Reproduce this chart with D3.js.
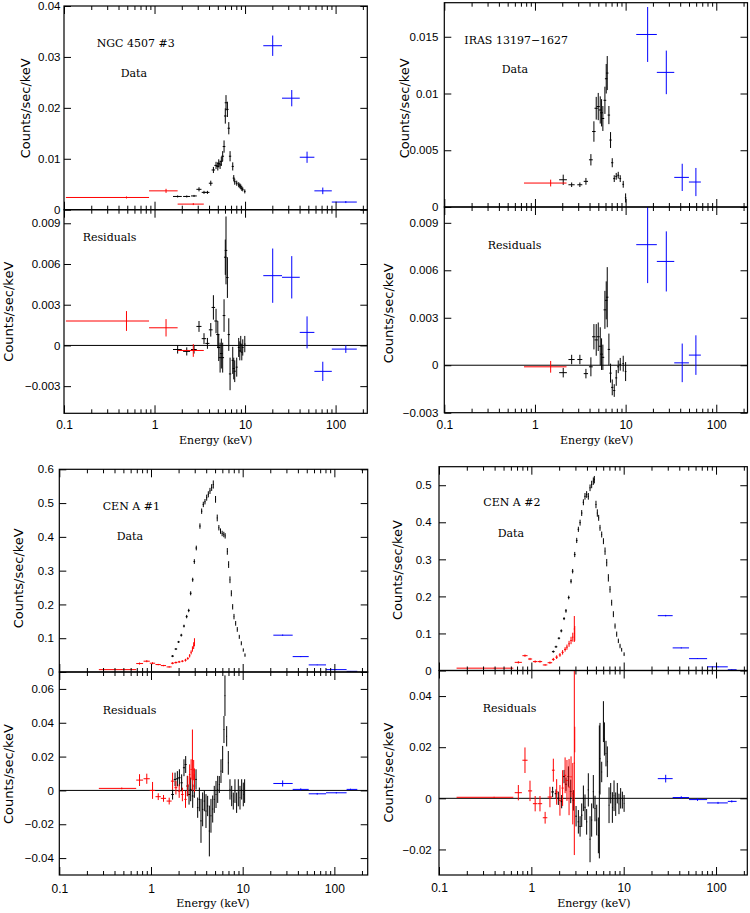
<!DOCTYPE html>
<html><head><meta charset="utf-8">
<script src="https://cdn.jsdelivr.net/npm/d3@7"></script>
<style>body{margin:0;background:#fff}</style>
</head><body><svg id="c" width="750" height="913"></svg>
<script>
// ---------- shared ticks ----------
const xMajor = [0.1, 1, 10, 100];
const xMajorLabels = ["0.1", "1", "10", "100"];
const xMinor = [0.2,0.3,0.4,0.5,0.6,0.7,0.8,0.9,2,3,4,5,6,7,8,9,20,30,40,50,60,70,80,90,200];

// ---------- Panel 1: NGC 4507 #3 ----------
const p1DataTicks = [0, 0.01, 0.02, 0.03, 0.04];
const p1DataLabels = ["0", "0.01", "0.02", "0.03", "0.04"];
const p1ResTicks = [-0.003, 0, 0.003, 0.006, 0.009];
const p1ResLabels = ["\u22120.003", "0", "0.003", "0.006", "0.009"];
const p1BlackE = [1.80,2.27,2.73,3.10,3.52,3.84,4.18,4.47,4.78,5.00,5.12,5.30,5.47,5.66,5.86,6.05,6.16,6.38,6.61,6.83,7.31,7.50,7.69,8.09,8.51,8.75,8.96,9.20,9.43,9.93];
const p1BlackY = [0.0026,0.0026,0.0027,0.0040,0.0034,0.0034,0.0052,0.0078,0.0087,0.0085,0.0091,0.0088,0.0095,0.0105,0.0124,0.0184,0.0210,0.0197,0.0160,0.0105,0.0085,0.0062,0.0055,0.0052,0.0049,0.0047,0.0045,0.0042,0.0040,0.0036];
const p1BlackDY = [0.0002,0.0002,0.0002,0.0004,0.0003,0.0003,0.0005,0.0006,0.0007,0.0008,0.0008,0.0008,0.0009,0.0010,0.0012,0.0015,0.0015,0.0015,0.0012,0.0010,0.0008,0.0006,0.0006,0.0005,0.0005,0.0005,0.0005,0.0005,0.0004,0.0004];
const p1BlackR = [-0.0003,-0.00044,-0.0003,0.0014,0.0005,0.00015,0.00115,0.0028,0.0018,0.0008,-0.00015,-0.0009,-0.0006,-0.0009,0.0022,0.0065,0.0070,0.0050,0.0008,-0.0021,-0.0011,-0.0017,-0.0019,-0.0016,-0.00015,-0.0004,0.0001,-0.0005,-0.00015,0.0001];
const p1BlackDR = [0.0003,0.0003,0.0003,0.0004,0.0004,0.0004,0.0005,0.0009,0.0009,0.0010,0.0010,0.0011,0.0011,0.0011,0.0012,0.0013,0.0025,0.0015,0.0012,0.0012,0.0010,0.0008,0.0008,0.0007,0.0007,0.0007,0.0006,0.0006,0.0006,0.0006];
const p1RedE = [0.49, 1.34, 2.68];
const p1RedLo = [0.105, 0.87, 1.80];
const p1RedHi = [0.87, 1.80, 3.50];
const p1RedY = [0.0024, 0.0037, 0.0011];
const p1RedDY = [0.0002, 0.0004, 0.0002];
const p1RedR = [0.0018, 0.0013, -0.00037];
const p1RedDR = [0.00073, 0.00064, 0.00047];
const p1BlueE = [20.2, 32.8, 48.4, 72.2, 129.7];
const p1BlueLo = [15.9, 25.6, 40.2, 58.3, 90.8];
const p1BlueHi = [25.6, 40.2, 58.3, 90.8, 171.5];
const p1BlueY = [0.0322, 0.0219, 0.0103, 0.0037, 0.0015];
const p1BlueDY = [0.0020, 0.0016, 0.0011, 0.00065, 0.0002];
const p1BlueR = [0.00514, 0.00502, 0.00096, -0.00191, -0.00027];
const p1BlueDR = [0.0020, 0.00156, 0.00118, 0.00071, 0.00028];

// ---------- Panel 2: IRAS 13197-1627 ----------
const p2DataTicks = [0, 0.005, 0.01, 0.015];
const p2DataLabels = ["0", "0.005", "0.01", "0.015"];
const p2ResTicks = [-0.003, 0, 0.003, 0.006, 0.009];
const p2ResLabels = ["\u22120.003", "0", "0.003", "0.006", "0.009"];
const p2BlackE = [2.05,2.54,3.13,3.65,4.14,4.47,4.74,4.99,5.25,5.43,5.61,5.91,6.11,6.27,6.54,6.82,7.12,7.49,7.88,8.29,8.72,9.41,10.0];
const p2BlackY = [0.0024,0.00196,0.00196,0.00226,0.00416,0.00665,0.0087,0.00885,0.00855,0.0083,0.0078,0.0094,0.0113,0.0118,0.0081,0.0059,0.0039,0.0025,0.0027,0.0028,0.0025,0.0020,0.0008];
const p2BlackDY = [0.00045,0.0002,0.0002,0.0003,0.0005,0.0009,0.0010,0.0012,0.0012,0.0012,0.0011,0.0012,0.0013,0.0015,0.0008,0.0007,0.0004,0.0003,0.0003,0.0003,0.0003,0.0003,0.0004];
const p2BlackR = [-0.00047,0.00036,0.00036,-0.00053,-0.0001,0.0018,0.0016,0.0018,0.0012,0.0007,0.0005,0.0035,0.0041,0.0043,0.0010,-0.0005,-0.0014,-0.0016,-0.0008,-0.0001,0.00006,0.0001,-0.0004];
const p2BlackDR = [0.0003,0.0003,0.0003,0.0003,0.0006,0.0008,0.0010,0.0009,0.0012,0.0010,0.0008,0.0012,0.0012,0.0019,0.0010,0.0006,0.0005,0.0004,0.0005,0.0004,0.0004,0.0005,0.0006];
const p2RedE = [1.49];
const p2RedLo = [0.757];
const p2RedHi = [2.23];
const p2RedY = [0.00211];
const p2RedDY = [0.0003];
const p2RedR = [-0.0001];
const p2RedDR = [0.00037];
const p2BlueE = [17.5, 28.1, 42.1, 59.6];
const p2BlueLo = [13.1, 22.1, 34.4, 49.9];
const p2BlueHi = [22.1, 34.4, 49.9, 67.6];
const p2BlueY = [0.0152, 0.01186, 0.00261, 0.0022];
const p2BlueDY = [0.00242, 0.00192, 0.0012, 0.00124];
const p2BlueR = [0.00762, 0.00656, 0.00015, 0.00064];
const p2BlueDR = [0.00243, 0.0019, 0.00122, 0.00125];

// ---------- Panel 3: CEN A #1 ----------
const p3DataTicks = [0, 0.1, 0.2, 0.3, 0.4, 0.5, 0.6];
const p3DataLabels = ["0", "0.1", "0.2", "0.3", "0.4", "0.5", "0.6"];
const p3ResTicks = [-0.04, -0.02, 0, 0.02, 0.04, 0.06];
const p3ResLabels = ["\u22120.04", "\u22120.02", "0", "0.02", "0.04", "0.06"];
const p3BlackE = [1.72,1.87,2.00,2.14,2.29,2.45,2.58,2.71,2.85,2.97,3.12,3.42,3.57,3.72,3.88,4.05,4.22,4.40,4.59,4.78,5.06,5.28,5.50,5.73,5.97,6.23,6.44,6.80,7.03,7.27,7.52,7.78,8.04,8.39,8.73,9.18,9.66,10.15,10.6];
const p3BlackY = [0.047,0.068,0.089,0.109,0.136,0.164,0.182,0.233,0.273,0.327,0.367,0.432,0.476,0.496,0.504,0.516,0.526,0.536,0.546,0.555,0.511,0.456,0.427,0.417,0.410,0.407,0.403,0.357,0.318,0.273,0.233,0.193,0.164,0.144,0.126,0.104,0.085,0.065,0.050];
const p3BlackDY = [0.003,0.003,0.003,0.004,0.004,0.005,0.005,0.006,0.006,0.007,0.007,0.008,0.008,0.008,0.008,0.009,0.009,0.009,0.010,0.012,0.010,0.010,0.008,0.008,0.008,0.008,0.008,0.010,0.010,0.010,0.009,0.008,0.008,0.007,0.007,0.006,0.006,0.005,0.005];
const p3ResE = [1.72,1.83,1.94,2.04,2.16,2.29,2.39,2.49,2.60,2.71,2.85,2.97,3.10,3.23,3.37,3.51,3.66,3.82,3.98,4.15,4.33,4.51,4.71,4.90,5.12,5.34,5.56,5.80,6.05,6.25,6.41,6.69,6.97,7.27,7.59,7.90,8.24,8.59,8.96,9.35,9.75,10.16,10.5];
const p3ResR = [-0.0024,0.0065,0.0069,0.0075,0.0045,0.0134,0.0153,0.0026,-0.0024,0.0006,-0.0033,0.0026,0.0065,-0.0102,-0.0053,-0.018,-0.0112,-0.0063,-0.0122,-0.0092,-0.024,-0.015,-0.011,-0.0053,-0.0024,0.0006,0.0035,0.0114,0.0183,0.036,0.056,0.032,0.0163,0.0006,-0.0033,-0.0063,-0.0004,-0.0073,-0.0014,-0.0043,0.0006,-0.0024,-0.0004];
const p3ResDR = [0.003,0.004,0.0045,0.005,0.005,0.005,0.005,0.006,0.006,0.007,0.007,0.007,0.006,0.006,0.007,0.013,0.01,0.006,0.01,0.006,0.015,0.01,0.008,0.008,0.008,0.008,0.005,0.007,0.008,0.008,0.012,0.006,0.007,0.006,0.006,0.005,0.007,0.006,0.008,0.007,0.006,0.007,0.007];
const p3RedE = [0.48,0.75,0.90,1.04,1.20,1.37,1.58,1.72,1.87,2.03,2.20,2.38,2.52,2.64,2.74,2.83,2.92,2.98];
const p3RedLo = [0.27,0.69,0.83,0.97,1.12,1.28,1.48,1.65,1.80,1.96,2.13,2.31,2.46,2.59,2.70,2.80,2.89,2.96];
const p3RedHi = [0.69,0.82,0.97,1.11,1.28,1.46,1.68,1.79,1.94,2.10,2.27,2.45,2.58,2.69,2.78,2.87,2.95,3.00];
const p3RedY = [0.007,0.025,0.032,0.026,0.022,0.019,0.015,0.026,0.028,0.030,0.032,0.035,0.040,0.048,0.058,0.068,0.078,0.088];
const p3RedDY = [0.001,0.003,0.003,0.003,0.002,0.002,0.002,0.003,0.003,0.003,0.003,0.004,0.004,0.005,0.006,0.008,0.010,0.012];
const p3RedR = [0.0012,0.0061,0.0069,0.0,-0.0037,-0.0047,-0.0063,0.0055,0.0016,-0.0004,-0.0024,-0.0053,0.0026,0.0094,0.0124,0.018,0.012,0.006];
const p3RedDR = [0.0005,0.0035,0.003,0.005,0.002,0.002,0.002,0.005,0.004,0.004,0.004,0.005,0.006,0.006,0.006,0.018,0.006,0.007];
const p3BlueE = [27.3, 43, 65, 105, 150];
const p3BlueLo = [21.6, 35.1, 52.5, 81.1, 136];
const p3BlueHi = [35.1, 52.5, 81.1, 136, 178];
const p3BlueY = [0.109, 0.0456, 0.021, 0.007, 0.002];
const p3BlueDY = [0.002, 0.0015, 0.001, 0.001, 0.001];
const p3BlueR = [0.0041, 0.0006, -0.002, -0.0014, 0.0006];
const p3BlueDR = [0.0018, 0.0006, 0.0005, 0.0004, 0.0004];

// ---------- Panel 4: CEN A #2 ----------
const p4DataTicks = [0, 0.1, 0.2, 0.3, 0.4, 0.5];
const p4DataLabels = ["0", "0.1", "0.2", "0.3", "0.4", "0.5"];
const p4ResTicks = [-0.02, 0, 0.02, 0.04];
const p4ResLabels = ["\u22120.02", "0", "0.02", "0.04"];
const p4BlackE = [1.73,1.85,1.99,2.11,2.26,2.37,2.54,2.69,2.80,2.95,3.10,3.23,3.37,3.51,3.66,3.81,3.97,4.14,4.32,4.50,4.69,4.81,5.01,5.18,5.36,5.54,5.78,6.03,6.28,6.55,6.82,7.11,7.41,7.73,8.06,8.40,8.75,9.13,9.51,10.1];
const p4BlackY = [0.051,0.064,0.087,0.107,0.140,0.161,0.197,0.241,0.268,0.313,0.351,0.381,0.399,0.425,0.454,0.470,0.475,0.470,0.493,0.502,0.511,0.515,0.448,0.425,0.412,0.385,0.367,0.349,0.322,0.291,0.250,0.219,0.183,0.152,0.120,0.098,0.080,0.066,0.056,0.044];
const p4BlackDY = [0.003,0.003,0.003,0.004,0.004,0.005,0.005,0.006,0.006,0.007,0.007,0.007,0.008,0.008,0.008,0.009,0.009,0.009,0.009,0.010,0.010,0.010,0.010,0.010,0.008,0.008,0.008,0.008,0.010,0.010,0.010,0.009,0.008,0.008,0.007,0.007,0.006,0.006,0.005,0.005];
const p4ResE = [1.70,1.85,1.96,2.13,2.26,2.37,2.52,2.67,2.85,3.05,3.23,3.37,3.51,3.66,3.81,3.97,4.14,4.32,4.50,4.69,4.89,5.10,5.32,5.45,5.54,5.78,6.03,6.18,6.43,6.65,6.94,7.23,7.54,7.86,8.19,8.53,8.89,9.27,9.67,10.1];
const p4ResR = [0.0025,0.0018,0.0,-0.0013,0.0085,0.0055,0.0085,0.0027,-0.0008,-0.007,-0.0092,-0.011,-0.0066,0.0,-0.0035,-0.0092,0.0033,-0.016,-0.0085,0.0026,-0.004,-0.0085,-0.0145,0.0025,0.0155,0.0103,0.030,0.0232,0.0175,0.0143,-0.0027,0.002,-0.0036,0.001,-0.0023,0.002,-0.0022,0.0,-0.0007,-0.002];
const p4ResDR = [0.002,0.0017,0.0026,0.0026,0.0026,0.0026,0.004,0.0046,0.004,0.004,0.0046,0.004,0.0046,0.005,0.005,0.005,0.0065,0.009,0.0065,0.0065,0.005,0.006,0.007,0.026,0.014,0.004,0.008,0.0065,0.005,0.006,0.007,0.004,0.006,0.006,0.0046,0.004,0.004,0.004,0.0033,0.0033];
const p4RedE = [0.395,0.723,0.853,0.967,1.10,1.24,1.41,1.59,1.73,1.88,2.04,2.18,2.32,2.43,2.56,2.69,2.81,2.92,2.95];
const p4RedLo = [0.155,0.66,0.80,0.92,1.04,1.17,1.33,1.50,1.67,1.82,1.98,2.12,2.26,2.38,2.51,2.64,2.77,2.88,2.93];
const p4RedHi = [0.638,0.79,0.91,1.02,1.16,1.31,1.49,1.68,1.79,1.94,2.10,2.24,2.38,2.48,2.61,2.74,2.85,2.96,2.97];
const p4RedY = [0.0063,0.022,0.040,0.031,0.024,0.024,0.015,0.021,0.030,0.036,0.042,0.049,0.057,0.063,0.072,0.081,0.090,0.112,0.100];
const p4RedDY = [0.001,0.003,0.003,0.003,0.003,0.003,0.002,0.003,0.004,0.005,0.005,0.006,0.006,0.007,0.008,0.010,0.012,0.035,0.020];
const p4RedR = [0.0004,0.0022,0.0149,0.0029,-0.0021,-0.0021,-0.0076,0.0005,0.011,0.0025,-0.0008,0.004,0.009,0.007,0.0044,0.0084,0.0018,0.0138,0.023];
const p4RedDR = [0.0002,0.003,0.005,0.004,0.003,0.003,0.0023,0.004,0.0045,0.005,0.006,0.007,0.007,0.008,0.011,0.008,0.012,0.036,0.005];
const p4BlueE = [28.5, 42, 63, 105, 148];
const p4BlueLo = [23.4, 33.9, 51.0, 80.0, 134];
const p4BlueHi = [33.9, 51.0, 80.0, 134, 167];
const p4BlueY = [0.148, 0.061, 0.032, 0.0099, 0.002];
const p4BlueDY = [0.002, 0.0015, 0.001, 0.001, 0.001];
const p4BlueR = [0.0077, 0.0003, -0.0005, -0.0018, -0.0012];
const p4BlueDR = [0.0015, 0.0005, 0.0005, 0.0004, 0.0004];

// ---------- layout (pixel geometry) ----------
const panels = [
  { left: 64, right: 367.3, xMax: 224, top: 6, mid: 209.7, bottom: 413.3,
    dataDomain: [0, 0.04], resDomain: [-0.005, 0.01],
    dataTicks: p1DataTicks, dataLabels: p1DataLabels, resTicks: p1ResTicks, resLabels: p1ResLabels,
    yGap: 3.5, xGap: 6.7, binHalf: 0.2,
    black: { e: p1BlackE, y: p1BlackY, dy: p1BlackDY, r: p1BlackR, dr: p1BlackDR },
    red: { e: p1RedE, lo: p1RedLo, hi: p1RedHi, y: p1RedY, dy: p1RedDY, r: p1RedR, dr: p1RedDR },
    blue: { e: p1BlueE, lo: p1BlueLo, hi: p1BlueHi, y: p1BlueY, dy: p1BlueDY, r: p1BlueR, dr: p1BlueDR },
    name: "NGC 4507 #3", nameXY: [96.7, 46.7], dataXY: [120.7, 76.7], resXY: [82.7, 240.5],
    yLabData: [25.7, 108.3], yLabRes: [8.5, 311.7], eLab: [215.7, 444] },
  { left: 444.3, right: 747.5, xMax: 221, top: 2.7, mid: 207, bottom: 412.7,
    dataDomain: [0, 0.018], resDomain: [-0.003, 0.01],
    dataTicks: p2DataTicks, dataLabels: p2DataLabels, resTicks: p2ResTicks, resLabels: p2ResLabels,
    yGap: 6, xGap: 7.3, binHalf: 0.2,
    black: { e: p2BlackE, y: p2BlackY, dy: p2BlackDY, r: p2BlackR, dr: p2BlackDR },
    red: { e: p2RedE, lo: p2RedLo, hi: p2RedHi, y: p2RedY, dy: p2RedDY, r: p2RedR, dr: p2RedDR },
    blue: { e: p2BlueE, lo: p2BlueLo, hi: p2BlueHi, y: p2BlueY, dy: p2BlueDY, r: p2BlueR, dr: p2BlueDR },
    name: "IRAS 13197\u22121627", nameXY: [464.3, 44.3], dataXY: [501.7, 73.3], resXY: [487.7, 249],
    yLabData: [404.5, 108.3], yLabRes: [388.8, 313.3], eLab: [596.7, 444] },
  { left: 59.3, right: 367.7, xMax: 231, top: 469.3, mid: 672, bottom: 875,
    dataDomain: [0, 0.6], resDomain: [-0.05, 0.07],
    dataTicks: p3DataTicks, dataLabels: p3DataLabels, resTicks: p3ResTicks, resLabels: p3ResLabels,
    yGap: 5.5, xGap: 9, binHalf: 0.06,
    black: { e: p3BlackE, y: p3BlackY, dy: p3BlackDY, re: p3ResE, r: p3ResR, dr: p3ResDR },
    red: { e: p3RedE, lo: p3RedLo, hi: p3RedHi, y: p3RedY, dy: p3RedDY, r: p3RedR, dr: p3RedDR },
    blue: { e: p3BlueE, lo: p3BlueLo, hi: p3BlueHi, y: p3BlueY, dy: p3BlueDY, r: p3BlueR, dr: p3BlueDR },
    name: "CEN A #1", nameXY: [102.7, 510], dataXY: [116.7, 540], resXY: [102.7, 714],
    yLabData: [18, 578.3], yLabRes: [8.7, 774], eLab: [213, 906.5] },
  { left: 439, right: 747.3, xMax: 218, top: 466.7, mid: 670.5, bottom: 875,
    dataDomain: [0, 0.55], resDomain: [-0.03, 0.05],
    dataTicks: p4DataTicks, dataLabels: p4DataLabels, resTicks: p4ResTicks, resLabels: p4ResLabels,
    yGap: 7.3, xGap: 8.3, binHalf: 0.06,
    black: { e: p4BlackE, y: p4BlackY, dy: p4BlackDY, re: p4ResE, r: p4ResR, dr: p4ResDR },
    red: { e: p4RedE, lo: p4RedLo, hi: p4RedHi, y: p4RedY, dy: p4RedDY, r: p4RedR, dr: p4RedDR },
    blue: { e: p4BlueE, lo: p4BlueLo, hi: p4BlueHi, y: p4BlueY, dy: p4BlueDY, r: p4BlueR, dr: p4BlueDR },
    name: "CEN A #2", nameXY: [483.3, 506], dataXY: [497.7, 536.7], resXY: [482.7, 712.3],
    yLabData: [397.8, 570], yLabRes: [388.8, 772.5], eLab: [593.8, 906.5] }
];

const TICK_FONT = "'Liberation Sans', Arial, sans-serif";
const LABEL_FONT = "'DejaVu Sans', sans-serif";
const SERIF_FONT = "'DejaVu Serif', 'Liberation Serif', serif";
const svg = d3.select("#c");
svg.append("rect").attr("width", 750).attr("height", 913).attr("fill", "#fff");

function styleAxis(g, fontSize) {
  g.select(".domain").remove();
  g.selectAll(".tick line").attr("stroke", "#000").attr("stroke-width", 1);
  g.selectAll("text").attr("font-family", TICK_FONT).attr("font-size", fontSize).attr("fill", "#000");
  return g;
}

function drawSeries(g, x, y, s, which, color, binHalf) {
  const E = which === "data" ? s.e : (s.re || s.e);
  const V = which === "data" ? s.y : s.r;
  const D = which === "data" ? s.dy : s.dr;
  const useBins = which === "data" || !s.re;
  const pts = E.map((e, i) => ({
    e,
    lo: (useBins && s.lo) ? s.lo[i] : e - binHalf,
    hi: (useBins && s.hi) ? s.hi[i] : e + binHalf,
    v: V[i], d: D[i]
  }));
  g.append("path")
    .attr("d", pts.map(p => `M${x(p.lo)},${y(p.v)}H${x(p.hi)}M${x(p.e)},${y(p.v - p.d)}V${y(p.v + p.d)}`).join(""))
    .attr("fill", "none").attr("stroke", color).attr("stroke-width", 1);
}

panels.forEach((P, pi) => {
  const x = d3.scaleLog().domain([0.1, P.xMax]).range([P.left, P.right]);
  const yD = d3.scaleLinear().domain(P.dataDomain).range([P.mid, P.top]);
  const yR = d3.scaleLinear().domain(P.resDomain).range([P.bottom, P.mid]);
  const minor = xMinor.filter(v => v <= P.xMax);

  const subs = [
    { y: yD, t: P.top, b: P.mid, ticks: P.dataTicks, labels: P.dataLabels, kind: "data", xl: false },
    { y: yR, t: P.mid, b: P.bottom, ticks: P.resTicks, labels: P.resLabels, kind: "res", xl: true }
  ];
  subs.forEach((S, si) => {
    const cid = `clip${pi}_${si}`;
    svg.append("clipPath").attr("id", cid).append("rect")
      .attr("x", P.left).attr("y", S.t).attr("width", P.right - P.left).attr("height", S.b - S.t);
    const plot = svg.append("g").attr("clip-path", `url(#${cid})`);
    if (S.kind === "res") {
      plot.append("line").attr("x1", P.left).attr("x2", P.right)
        .attr("y1", S.y(0)).attr("y2", S.y(0)).attr("stroke", "#000").attr("stroke-width", 1);
    }
    drawSeries(plot, x, S.y, P.black, S.kind, "#000", P.binHalf);
    drawSeries(plot, x, S.y, P.red, S.kind, "#ff0000", P.binHalf);
    drawSeries(plot, x, S.y, P.blue, S.kind, "#0000ff", P.binHalf);

    const bMaj = svg.append("g").attr("transform", `translate(0,${S.b})`)
      .call(d3.axisBottom(x).tickValues(xMajor).tickSize(-8).tickPadding(P.xGap)
        .tickFormat((d, i) => S.xl ? xMajorLabels[i] : ""));
    styleAxis(bMaj, 12);
    bMaj.selectAll("text").attr("dy", "0.72em");
    styleAxis(svg.append("g").attr("transform", `translate(0,${S.b})`)
      .call(d3.axisBottom(x).tickValues(minor).tickSize(-4).tickFormat("")), 11);
    styleAxis(svg.append("g").attr("transform", `translate(0,${S.t})`)
      .call(d3.axisTop(x).tickValues(xMajor).tickSize(-8).tickFormat("")), 11);
    styleAxis(svg.append("g").attr("transform", `translate(0,${S.t})`)
      .call(d3.axisTop(x).tickValues(minor).tickSize(-4).tickFormat("")), 11);

    styleAxis(svg.append("g").attr("transform", `translate(${P.left},0)`)
      .call(d3.axisLeft(S.y).tickValues(S.ticks).tickSize(-7).tickPadding(P.yGap)
        .tickFormat((d, i) => S.labels[i])), 11.5);
    styleAxis(svg.append("g").attr("transform", `translate(${P.right},0)`)
      .call(d3.axisRight(S.y).tickValues(S.ticks).tickSize(-7).tickFormat("")), 11);

    svg.append("rect").attr("x", P.left).attr("y", S.t)
      .attr("width", P.right - P.left).attr("height", S.b - S.t)
      .attr("fill", "none").attr("stroke", "#000").attr("stroke-width", 1.2);

    const yl = S.kind === "data" ? P.yLabData : P.yLabRes;
    svg.append("text").attr("transform", `translate(${yl[0]},${yl[1]}) rotate(-90)`)
      .attr("text-anchor", "middle").attr("dominant-baseline", "central")
      .attr("font-family", LABEL_FONT).attr("font-size", 13).text("Counts/sec/keV");
  });

  const ann = (xy, txt, anchor) => svg.append("text").attr("x", xy[0]).attr("y", xy[1])
    .attr("text-anchor", anchor || "start").attr("font-family", SERIF_FONT).attr("font-size", 11)
    .attr("fill", "#000").text(txt);
  ann(P.nameXY, P.name);
  ann(P.dataXY, "Data");
  ann(P.resXY, "Residuals");
  ann(P.eLab, "Energy (keV)", "middle");
});
</script></body></html>
